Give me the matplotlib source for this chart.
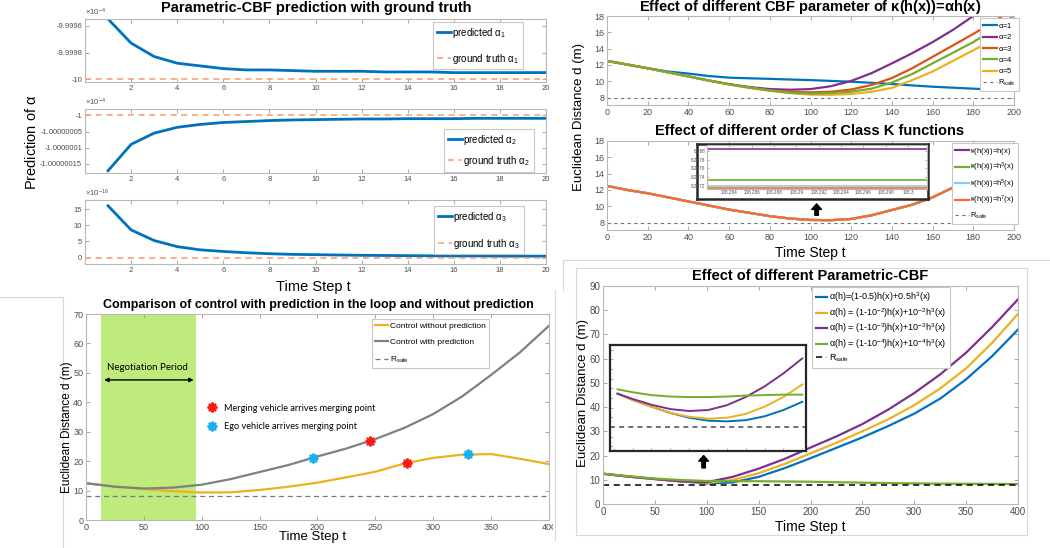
import matplotlib.pyplot as plt
from matplotlib.lines import Line2D
from matplotlib.patches import Rectangle

plt.rcParams['font.family'] = ['Liberation Sans', 'DejaVu Sans']
plt.rcParams['mathtext.fontset'] = 'custom'
plt.rcParams['mathtext.rm'] = 'Liberation Sans'
plt.rcParams['mathtext.it'] = 'Liberation Sans:italic'
plt.rcParams['mathtext.default'] = 'regular'

# ---------------- data ----------------
# top-left: parametric-CBF prediction vs ground truth
steps = list(range(1, 21))
pred_a1 = [-9.99955, -9.99973, -9.99983, -9.99988, -9.99990, -9.99992, -9.99993, -9.99993,
           -9.999935, -9.99994, -9.99994, -9.99994, -9.999945, -9.999945, -9.999945,
           -9.99995, -9.99995, -9.99995, -9.99995, -9.99995]
pred_a2 = [-1.000000172, -1.00000009, -1.000000055, -1.000000037, -1.000000028, -1.000000022,
           -1.000000019, -1.000000016, -1.000000014, -1.000000013, -1.000000012, -1.000000011,
           -1.000000011, -1.00000001, -1.00000001, -1.00000001, -1.000000009, -1.000000009,
           -1.000000009, -1.000000009]
pred_a3 = [16.1, 8.6, 5.3, 3.4, 2.4, 1.9, 1.5, 1.2, 1.0, 0.9, 0.8, 0.7, 0.65, 0.6, 0.55,
           0.5, 0.5, 0.45, 0.45, 0.45]  # x 1e-16
truth = [-10.0, -1.0, 0.0]

# top-right (a): kappa(h(x)) = alpha h(x)
t_a = list(range(0, 201, 10))
d_alpha = {
    1: [12.5, 12.05, 11.6, 11.2, 10.95, 10.65, 10.45, 10.37, 10.3, 10.22, 10.15, 10.05, 9.95,
        9.82, 9.67, 9.5, 9.34, 9.22, 9.1, 9.0, 8.93],
    2: [12.5, 12.05, 11.6, 11.1, 10.6, 10.1, 9.65, 9.3, 9.05, 8.97, 9.05, 9.4, 10.05, 11.0,
        12.2, 13.45, 14.8, 16.3, 18.0, 19.8, 21.8],
    3: [12.5, 12.05, 11.6, 11.1, 10.6, 10.1, 9.65, 9.25, 8.9, 8.7, 8.65, 8.72, 9.0, 9.55,
        10.4, 11.6, 13.0, 14.4, 15.8, 17.3, 18.9],
    4: [12.5, 12.05, 11.6, 11.1, 10.6, 10.1, 9.62, 9.22, 8.88, 8.6, 8.49, 8.55, 8.73, 9.1,
        9.85, 10.9, 12.2, 13.5, 14.8, 16.4, 18.0],
    5: [12.5, 12.05, 11.6, 11.1, 10.6, 10.1, 9.6, 9.2, 8.85, 8.55, 8.37, 8.35, 8.45, 8.72,
        9.2, 10.15, 11.2, 12.5, 13.8, 15.1, 16.45],
}
alpha_colors = {1: '#0072BD', 2: '#7E2F8E', 3: '#D95319', 4: '#77AC30', 5: '#EDB120'}

# top-right (b): order of class K functions
t_b = list(range(0, 201, 10))
d_order = [12.5, 12.0, 11.6, 11.1, 10.6, 10.1, 9.6, 9.2, 8.8, 8.5, 8.33, 8.3, 8.45, 8.9,
           9.55, 10.2, 11.1, 12.3, 13.6, 15.0, 16.5]
order_labels = [r'$\kappa$(h(x))=h(x)', r'$\kappa$(h(x))=h$^3$(x)',
                r'$\kappa$(h(x))=h$^5$(x)', r'$\kappa$(h(x))=h$^7$(x)']
order_colors = ['#7E2F8E', '#77AC30', '#80CFF2', '#FF6A2A']
inset_levels = [8.28804, 8.28734, 8.28719, 8.28715]
inset_x = [108.282, 108.3017]

# bottom-left: control with / without prediction
t_c = list(range(0, 401, 25))
d_no_pred = [12.5, 11.4, 10.5, 9.8, 9.35, 9.4, 10.2, 11.3, 12.7, 14.5, 16.4, 19.2, 21.1,
             22.2, 22.4, 20.8, 19.0]
d_pred = [12.5, 11.3, 10.7, 11.0, 12.0, 13.9, 16.3, 18.7, 21.6, 24.3, 27.5, 31.3, 36.0,
          42.0, 49.3, 57.0, 66.0]
merge_t, merge_d = [245, 277], [26.8, 19.4]
ego_t, ego_d = [196, 330], [21.2, 22.3]
negotiation = [13, 95]
r_safe = 8

# bottom-right: different parametric-CBF
t_d = list(range(0, 401, 25))
d_pcbf = [
    [12.5, 11.3, 10.3, 9.4, 8.5, 8.9, 11.2, 14.8, 18.9, 23.2, 27.5, 32.2, 37.3, 43.5, 51.5,
     61.0, 72.0],
    [12.5, 11.3, 10.3, 9.4, 8.7, 9.9, 12.7, 16.5, 20.9, 25.3, 30.0, 35.0, 40.8, 47.7, 56.0,
     66.5, 78.5],
    [12.5, 11.3, 10.3, 9.3, 9.0, 11.2, 14.6, 18.6, 23.3, 27.9, 33.0, 39.0, 45.8, 53.5, 62.5,
     73.0, 84.5],
    [12.5, 11.5, 10.5, 9.9, 9.5, 9.45, 9.4, 9.3, 9.2, 9.0, 8.8, 8.65, 8.5, 8.4, 8.35, 8.3,
     8.25],
]
pcbf_labels = [r'$\alpha$(h)=(1-0.5)h(x)+0.5h$^3$(x)',
               r'$\alpha$(h) = (1-10$^{-2}$)h(x)+10$^{-2}$h$^3$(x)',
               r'$\alpha$(h) = (1-10$^{-3}$)h(x)+10$^{-3}$h$^3$(x)',
               r'$\alpha$(h) = (1-10$^{-4}$)h(x)+10$^{-4}$h$^3$(x)']
pcbf_colors = ['#0072BD', '#EDB120', '#7E2F8E', '#77AC30']
# zoomed view of the minimum region
zoom_t = [62, 70, 80, 90, 100, 110, 120, 130, 140, 150, 160]
zoom_d = [
    [8.69, 8.56, 8.42, 8.29, 8.19, 8.13, 8.115, 8.14, 8.22, 8.35, 8.52],
    [8.69, 8.56, 8.42, 8.29, 8.21, 8.17, 8.19, 8.27, 8.42, 8.62, 8.88],
    [8.69, 8.58, 8.46, 8.37, 8.33, 8.35, 8.45, 8.62, 8.84, 9.11, 9.42],
    [8.78, 8.72, 8.66, 8.63, 8.62, 8.62, 8.63, 8.65, 8.66, 8.67, 8.67],
]

# ---------------- figure ----------------
W, H = 1050, 548
fig = plt.figure(figsize=(W / 100, H / 100), dpi=100)


def add_ax(l, t, r, b):
    return fig.add_axes([l / W, 1 - b / H, (r - l) / W, (b - t) / H])


def style(ax, size):
    ax.tick_params(direction='in', top=True, right=True, labelsize=size, length=3,
                   width=0.6, color='0.6', labelcolor='0.3', pad=2)
    for s in ax.spines.values():
        s.set_color('0.72')
        s.set_linewidth(0.8)


def ftext(x, y, s, **kw):
    fig.text(x / W, 1 - y / H, s, ha='center', va='center', **kw)


def legend_at(ax, handles, labels, x, y, size, spacing, hl=1.4):
    leg = ax.legend(handles, labels, loc='upper left', bbox_to_anchor=(x / W, 1 - y / H),
                    bbox_transform=fig.transFigure, borderaxespad=0, fancybox=False,
                    edgecolor='0.78', framealpha=1, fontsize=size, labelspacing=spacing,
                    handlelength=hl, handletextpad=0.2, borderpad=0.4)
    leg.get_frame().set_linewidth(0.8)
    return leg


def frame_line(x0, y0, x1, y1):
    fig.add_artist(Line2D([x0 / W, x1 / W], [1 - y0 / H, 1 - y1 / H],
                          transform=fig.transFigure, color='0.85', lw=0.8))


# ---- top-left: three stacked predictions
tl_rows = [(19, 82), (109, 173), (200, 264)]
tl_ylims = [(-10.00002, -9.99955), (-1.000000179, -0.99999998), (-2, 17.9)]
tl_yticks = [[-10, -9.9998, -9.9996], [-1.00000015, -1.0000001, -1.00000005, -1], [0, 5, 10, 15]]
tl_ylabels = [['-10', '-9.9998', '-9.9996'],
              ['-1.00000015', '-1.0000001', '-1.00000005', '-1'], ['0', '5', '10', '15']]
tl_scale = [r'$\times10^{-4}$', r'$\times10^{-4}$', r'$\times10^{-16}$']
tl_leg = [(433, 22, 1.2), (444, 129, 0.7), (434, 206, 1.3)]
for i, pred in enumerate([pred_a1, pred_a2, pred_a3]):
    top, bot = tl_rows[i]
    ax = add_ax(85, top, 546, bot)
    p, = ax.plot(steps, pred, color='#0072BD', lw=2)
    g = ax.axhline(truth[i], color='#F99A6C', lw=1.1, ls=(0, (4, 3)))
    ax.set_xlim(0, 20)
    ax.set_ylim(*tl_ylims[i])
    ax.set_xticks(range(2, 21, 2))
    ax.set_yticks(tl_yticks[i])
    ax.set_yticklabels(tl_ylabels[i])
    style(ax, 5.5)
    ax.text(0, 1.02, tl_scale[i], transform=ax.transAxes, fontsize=5.5, color='0.3',
            va='bottom', ha='left')
    lx, ly, sp = tl_leg[i]
    legend_at(ax, [p, g], [r'predicted $\alpha_%d$' % (i + 1), r'ground truth $\alpha_%d$' % (i + 1)],
              lx, ly, 7, sp)
ftext(316, 8, 'Parametric-CBF prediction with ground truth', fontsize=10.5, fontweight='bold')
ftext(313, 287, 'Time Step t', fontsize=10.5)
ftext(32, 142, r'Prediction of $\alpha$', fontsize=10.5, rotation=90)

# ---- top-right (a)
axa = add_ax(607, 16, 1014, 105)
lines_a = {}
for k in [1, 2, 3, 5, 4]:
    lines_a[k], = axa.plot(t_a, d_alpha[k], color=alpha_colors[k], lw=1.6)
rs_a = axa.axhline(r_safe, color='0.45', lw=0.8, ls=(0, (3, 3)))
axa.set_xlim(0, 200)
axa.set_ylim(7.1, 18)
axa.set_xticks(range(0, 201, 20))
axa.set_yticks(range(8, 19, 2))
style(axa, 6.5)
legend_at(axa, [lines_a[k] for k in range(1, 6)] + [rs_a],
          [r'$\alpha$=%d' % k for k in range(1, 6)] + ['R$_{safe}$'], 980, 18, 5.5, 0.3,
          hl=1.8)
ftext(810, 7, r'Effect of different CBF parameter of $\kappa$(h(x))=$\alpha$h(x)',
      fontsize=10.5, fontweight='bold')

# ---- top-right (b)
axb = add_ax(607, 141, 1014, 230)
lines_b = []
for c in order_colors:
    ln, = axb.plot(t_b, d_order, color=c, lw=1.6)
    lines_b.append(ln)
rs_b = axb.axhline(r_safe, color='0.45', lw=0.8, ls=(0, (3, 3)))
axb.set_xlim(0, 200)
axb.set_ylim(7.1, 18)
axb.set_xticks(range(0, 201, 20))
axb.set_yticks(range(8, 19, 2))
style(axb, 6.5)
legend_at(axb, lines_b + [rs_b], order_labels + ['R$_{safe}$'], 952, 143, 5.5, 0.45, hl=1.8)
axb.annotate('', xy=(103, 10.3), xytext=(103, 8.9),
             arrowprops=dict(facecolor='k', edgecolor='k', width=2.5, headwidth=7,
                             headlength=4, shrink=0))
ftext(810, 131, 'Effect of different order of Class K functions', fontsize=10.5,
      fontweight='bold')
ftext(810, 253, 'Time Step t', fontsize=10)
ftext(579, 117, 'Euclidean Distance d (m)', fontsize=9.5, rotation=90)

# inset of (b)
box_b = add_ax(697, 144, 928, 199)
box_b.set_xticks([])
box_b.set_yticks([])
for s in box_b.spines.values():
    s.set_color('0.15')
    s.set_linewidth(1.8)
inb = add_ax(707, 145, 927, 189)
for lvl, c in zip(inset_levels, order_colors):
    inb.plot(inset_x, [lvl, lvl], color=c, lw=1.2)
inb.set_xlim(*inset_x)
inb.set_ylim(8.28713, 8.28813)
inb.set_xticks([108.284, 108.286, 108.288, 108.29, 108.292, 108.294, 108.296, 108.298, 108.3])
inb.set_xticklabels(['108.284', '108.286', '108.288', '108.29', '108.292', '108.294',
                     '108.296', '108.298', '108.3'])
inb.set_yticks([8.2872, 8.2874, 8.2876, 8.2878, 8.288])
inb.set_yticklabels(['8.2872', '8.2874', '8.2876', '8.2878', '8.288'])
style(inb, 3.3)
inb.tick_params(length=1.5, pad=1)

# ---- bottom-left
axc = add_ax(86, 314, 549, 520)
axc.axvspan(negotiation[0], negotiation[1], color='#BFEA7C', lw=0)
l_no, = axc.plot(t_c, d_no_pred, color='#EDB120', lw=1.6)
l_pr, = axc.plot(t_c, d_pred, color='#808080', lw=1.6)
rs_c = axc.axhline(r_safe, color='#6C7A89', lw=0.9, ls=(0, (4, 3)))
axc.plot(merge_t, merge_d, ls='none', marker=(8, 2, 0), ms=7, mew=1.6, color='#FF1A1A')
axc.plot(ego_t, ego_d, ls='none', marker=(8, 2, 0), ms=7, mew=1.6, color='#1AB0F0')
axc.set_xlim(0, 400)
axc.set_ylim(0, 70)
axc.set_xticks(range(0, 401, 50))
axc.set_yticks(range(0, 71, 10))
style(axc, 6.5)
leg_c = legend_at(axc, [l_no, l_pr, rs_c], ['Control without prediction',
                  'Control with prediction', 'R$_{safe}$'], 372, 319, 6, 1.0, hl=1.5)
axc.add_artist(leg_c)
ev_merge = Line2D([], [], ls='none', marker=(8, 2, 0), ms=7, mew=1.6, color='#FF1A1A')
ev_ego = Line2D([], [], ls='none', marker=(8, 2, 0), ms=7, mew=1.6, color='#1AB0F0')
axc.legend([ev_merge, ev_ego], ['Merging vehicle arrives merging point',
           'Ego vehicle arrives merging point'], loc='upper left',
           bbox_to_anchor=(199 / W, 1 - 400 / H), bbox_transform=fig.transFigure,
           frameon=False, prop={'family': 'Lato', 'size': 6.6}, labelspacing=1.0,
           handletextpad=0.3, borderaxespad=0)
axc.annotate('', xy=(negotiation[0] + 2.7, 47.6), xytext=(negotiation[1] - 2, 47.6),
             arrowprops=dict(arrowstyle='<|-|>', color='k', lw=1, mutation_scale=6,
                             shrinkA=0, shrinkB=0))
axc.text(sum(negotiation) / 2 - 1, 51.7, 'Negotiation Period', ha='center', va='center',
         family='Lato', fontsize=7)
ftext(318, 305, 'Comparison of control with prediction in the loop and without prediction',
      fontsize=9, fontweight='bold')
ftext(313, 537, 'Time Step t', fontsize=9.5)
ftext(67, 427, 'Euclidean Distance d (m)', fontsize=8.5, rotation=90)

# blank the area taken by the neighbouring screenshot
fig.add_artist(Rectangle((553 / W, 0), (W - 553) / W, 1 - 288 / H,
                         transform=fig.transFigure, facecolor='white', edgecolor='none',
                         zorder=1))

# ---- bottom-right
axd = add_ax(603, 286, 1018, 504)
axd.set_zorder(2)
lines_d = []
for d, c in zip(d_pcbf, pcbf_colors):
    ln, = axd.plot(t_d, d, color=c, lw=1.6)
    lines_d.append(ln)
rs_d = axd.axhline(r_safe, color='k', lw=1.1, ls=(0, (4, 3)))
axd.set_xlim(0, 400)
axd.set_ylim(0, 90)
axd.set_xticks(range(0, 401, 50))
axd.set_yticks(range(0, 91, 10))
style(axd, 7)
legend_at(axd, lines_d + [rs_d], pcbf_labels + ['R$_{safe}$'], 812, 287, 6.5, 0.2, hl=1.3)
axd.annotate('', xy=(97, 20), xytext=(97, 14.9),
             arrowprops=dict(facecolor='k', edgecolor='k', width=2.5, headwidth=7,
                             headlength=4, shrink=0))
ind = add_ax(610, 345, 806, 451)
ind.set_zorder(3)
for d, c in zip(zoom_d, pcbf_colors):
    ind.plot(zoom_t, d, color=c, lw=1.4)
ind.axhline(r_safe, color='0.35', lw=1.2, ls=(0, (3, 2.5)))
ind.set_xlim(58, 162)
ind.set_ylim(7.5, 9.7)
ind.set_xticks(range(60, 161, 10))
ind.set_yticks([7.6, 7.8, 8.0, 8.2, 8.4, 8.6, 8.8, 9.0, 9.2, 9.4, 9.6])
ind.set_xticklabels([])
ind.set_yticklabels([])
ind.tick_params(direction='in', length=2, color='0.7')
for s in ind.spines.values():
    s.set_color('0.15')
    s.set_linewidth(1.6)
ftext(810, 276, 'Effect of different Parametric-CBF', fontsize=10.5, fontweight='bold')
ftext(810, 527, 'Time Step t', fontsize=10)
ftext(583, 393, 'Euclidean Distance d (m)', fontsize=9.5, rotation=90)

# screenshot borders
frame_line(0, 297, 63, 297)
frame_line(63, 297, 63, 548)
frame_line(563, 260, 1050, 260)
frame_line(563, 260, 563, 290)
frame_line(555, 290, 555, 540)
frame_line(576, 268, 1027, 268)
frame_line(576, 268, 576, 535)
frame_line(576, 535, 1027, 535)
frame_line(1027, 268, 1027, 535)

fig.savefig('out.png', dpi=100)
